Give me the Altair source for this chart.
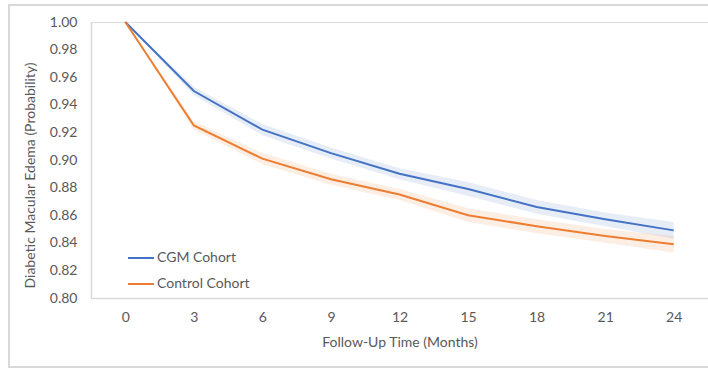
import altair as alt
import pandas as pd

months = [0, 3, 6, 9, 12, 15, 18, 21, 24]
cgm = [1.000, 0.950, 0.922, 0.905, 0.890, 0.879, 0.866, 0.857, 0.849]
cgm_lo = [1.000, 0.947, 0.918, 0.901, 0.886, 0.874, 0.861, 0.852, 0.843]
cgm_hi = [1.000, 0.953, 0.926, 0.909, 0.894, 0.884, 0.871, 0.862, 0.855]
ctrl = [1.000, 0.925, 0.901, 0.886, 0.875, 0.860, 0.852, 0.845, 0.839]
ctrl_lo = [1.000, 0.922, 0.897, 0.882, 0.871, 0.855, 0.847, 0.840, 0.833]
ctrl_hi = [1.000, 0.928, 0.905, 0.890, 0.879, 0.865, 0.857, 0.850, 0.845]
y_ticks = [0.80, 0.82, 0.84, 0.86, 0.88, 0.90, 0.92, 0.94, 0.96, 0.98, 1.00]
series = ["CGM Cohort", "Control Cohort"]
colors = ["#4472C4", "#ED7D31"]

rows = []
for i, m in enumerate(months):
    rows.append({"month": m, "value": cgm[i], "lo": cgm_lo[i], "hi": cgm_hi[i], "cohort": series[0]})
    rows.append({"month": m, "value": ctrl[i], "lo": ctrl_lo[i], "hi": ctrl_hi[i], "cohort": series[1]})
df = pd.DataFrame(rows)

FONT = "Lato"
GRAY = "#595959"

x = alt.X(
    "month:Q",
    scale=alt.Scale(domain=[-1.5, 25.5], nice=False, zero=False),
    axis=alt.Axis(
        values=months, title="Follow-Up Time (Months)", grid=False, ticks=False,
        domainColor="#D9D9D9", domainWidth=1.5, labelPadding=12, titlePadding=11,
        labelFontSize=14, titleFontSize=14, labelColor=GRAY, titleColor=GRAY,
        labelFont=FONT, titleFont=FONT, titleFontWeight="normal", labelOverlap=False,
    ),
)
y_scale = alt.Scale(domain=[0.80, 1.00], nice=False, zero=False)
y_axis = alt.Axis(
    values=y_ticks, format=".2f",
    title="Diabetic Macular Edema (Probability)", grid=False, ticks=False,
    domainColor="#D9D9D9", domainWidth=1.5, labelPadding=14, titlePadding=12,
    labelFontSize=14, titleFontSize=14, labelColor=GRAY, titleColor=GRAY,
    labelFont=FONT, titleFont=FONT, titleFontWeight="normal", labelOverlap=False,
    titleY=153,
)
color = alt.Color(
    "cohort:N",
    scale=alt.Scale(domain=series, range=colors),
    legend=alt.Legend(
        title=None, orient="none", legendX=36, legendY=222, symbolType="stroke",
        symbolSize=676, symbolStrokeWidth=2, symbolOpacity=1, labelFontSize=14,
        labelColor=GRAY, labelFont=FONT, rowPadding=5, labelOffset=2,
    ),
)

band = alt.Chart(df).mark_area(opacity=0.13).encode(
    x=x, y=alt.Y("lo:Q", scale=y_scale, axis=y_axis), y2="hi:Q", color=color,
)
lines = alt.Chart(df).mark_line(strokeWidth=2).encode(
    x=x, y=alt.Y("value:Q", scale=y_scale, axis=y_axis), color=color
)

frame = alt.Chart(df).mark_rect(fill=None, stroke="#D9D9D9", strokeWidth=1.5).encode(
    x=alt.value(-82), x2=alt.value(640), y=alt.value(-17), y2=alt.value(345)
)

chart = alt.layer(frame, band, lines).properties(
    width=617, height=276,
    autosize=alt.AutoSizeParams(type="none"),
    padding={"left": 91, "top": 22, "right": 0, "bottom": 70},
).configure_view(stroke=None).configure(background="white")

chart.save("out.html", embed_options={"renderer": "svg", "actions": False})
